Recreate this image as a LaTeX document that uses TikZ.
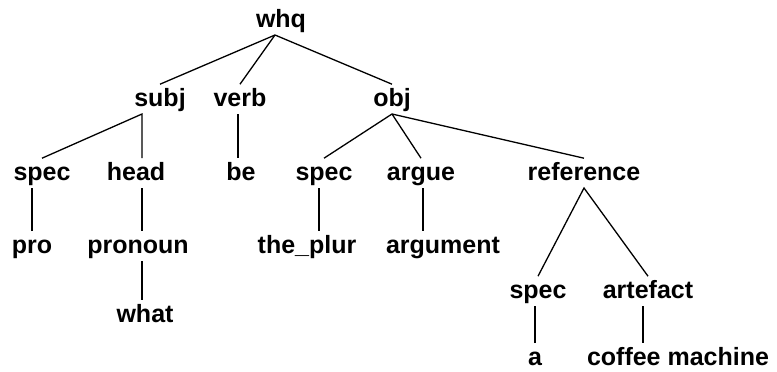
\documentclass[tikz,border=0pt]{standalone}
\usepackage{fontspec}
\setmainfont{Liberation Sans}
\begin{document}
\begin{tikzpicture}[x=0.5pt,y=-0.5pt,
  lbl/.style={anchor=base,inner sep=0pt,outer sep=1.5pt,
    text height=9.4pt,text depth=2.5pt,
    font=\fontsize{12.5}{15}\selectfont\bfseries},
  edge/.style={draw=black,line width=0.65pt}]
\useasboundingbox[fill=white] (0,0) rectangle (777,371);

% clause level
\node[lbl] (whq) at (281,27) {whq};
\node[lbl] (subj) at (160,106) {subj};
\node[lbl] (verb) at (240,106) {verb};
\node[lbl] (obj) at (392,106) {obj};

% constituents
\node[lbl] (spec1) at (42,180) {spec};
\node[lbl] (head) at (136,180) {head};
\node[lbl] (be) at (241,180) {be};
\node[lbl] (spec2) at (324,180) {spec};
\node[lbl] (argue) at (421,180) {argue};
\node[lbl] (reference) at (584,180) {reference};

% lexical fillers
\node[lbl] (pro) at (32,253) {pro};
\node[lbl] (pronoun) at (138,253) {pronoun};
\node[lbl] (theplur) at (307,253) {the\_plur};
\node[lbl] (argument) at (443,253) {argument};
\node[lbl] (what) at (145,322) {what};

% reference subtree
\node[lbl] (spec3) at (538,298) {spec};
\node[lbl] (artefact) at (648,298) {artefact};
\node[lbl] (a) at (535,365) {a};
\node[lbl] (coffee) at (678,365) {coffee machine};

% branch points
\coordinate (wq) at ([xshift=-3pt]whq.south);
\coordinate (sj) at ([xshift=-9pt]subj.south);

\draw[edge] (subj.north) -- (wq) -- (obj.north);
\draw[edge] (wq) -- (verb.north);

\draw[edge] (spec1.north) -- (sj) -- (sj |- head.north);
\draw[edge] ([xshift=-1pt]verb.south) -- ([xshift=-1pt]verb.south |- be.north);

\draw[edge] (spec2.north) -- (obj.south) -- (reference.north);
\draw[edge] (obj.south) -- (argue.north);

\draw[edge] (pro.north) -- (pro.north |- spec1.south);
\draw[edge] (sj |- head.south) -- (sj |- pronoun.north);
\draw[edge] (sj |- pronoun.south) -- (sj |- what.north);
\draw[edge] ([xshift=-2.5pt]spec2.south) -- ([xshift=-2.5pt]spec2.south |- theplur.north);
\draw[edge] ([xshift=1pt]argue.south) -- ([xshift=1pt]argue.south |- argument.north);

\draw[edge] (spec3.north) -- (reference.south) -- (artefact.north);
\draw[edge] (a.north) -- (a.north |- spec3.south);
\draw[edge] ([xshift=-2.5pt]artefact.south) -- ([xshift=-2.5pt]artefact.south |- coffee.north);
\end{tikzpicture}
\end{document}
